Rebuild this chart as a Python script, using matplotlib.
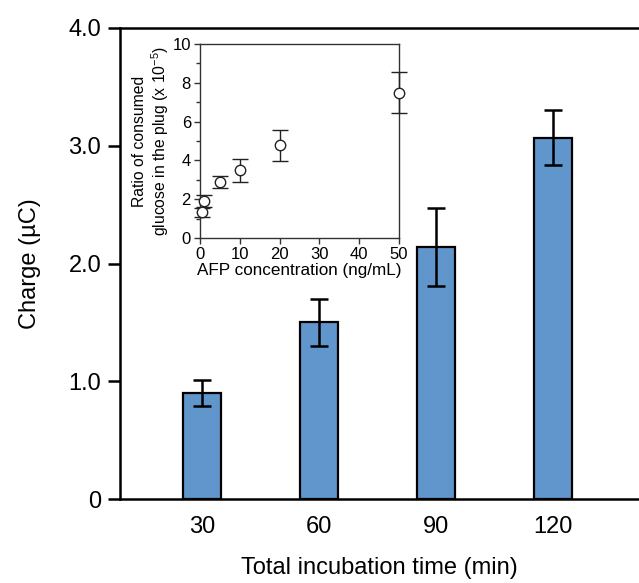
import matplotlib
matplotlib.use("Agg")
import matplotlib.pyplot as plt
import numpy as np

plt.rcParams['font.family'] = ['Liberation Sans', 'DejaVu Sans']
plt.rcParams['mathtext.default'] = 'regular'

# main bar data
times = ['30', '60', '90', '120']
charge = [0.90, 1.50, 2.14, 3.07]
charge_err = [0.11, 0.20, 0.33, 0.23]

# inset data
afp = [0.5, 1.0, 5.0, 10.0, 20.0, 50.0]
ratio = [1.32, 1.90, 2.87, 3.49, 4.79, 7.50]
ratio_err = [0.25, 0.30, 0.30, 0.58, 0.80, 1.07]

fig = plt.figure(figsize=(6.39, 5.83), dpi=100)
ax = fig.add_axes([0.1878, 0.144, 0.8122, 0.808])
x = np.arange(len(times))
ax.bar(x, charge, width=0.33, color='#6096CB', edgecolor='black', linewidth=1.6,
       yerr=charge_err, error_kw=dict(ecolor='black', elinewidth=1.8, capsize=6.5, capthick=1.8), zorder=2)
ax.set_xlim(-0.70, 3.735)
ax.set_ylim(0, 4.0)
ax.set_yticks([0, 1, 2, 3, 4])
ax.set_yticklabels(['0', '1.0', '2.0', '3.0', '4.0'])
ax.set_xticks(x)
ax.set_xticklabels(times)
for s in ['top', 'bottom', 'left']:
    ax.spines[s].set_linewidth(1.8)
ax.spines['right'].set_visible(False)
ax.tick_params(axis='y', direction='out', length=8.5, width=1.8, labelsize=17, pad=5)
ax.tick_params(axis='x', length=0, labelsize=17, pad=12)
ax.set_xlabel('Total incubation time (min)', fontsize=17, labelpad=14)
ax.set_ylabel('Charge (µC)', fontsize=17, labelpad=20)

ins = fig.add_axes([0.313, 0.5918, 0.3114, 0.3327])
ins.errorbar(afp, ratio, yerr=ratio_err, fmt='o', mfc='white', mec='#222222', ms=7.5, mew=1,
             ecolor='#222222', elinewidth=1, capsize=5.5, capthick=1, clip_on=False, zorder=3)
ins.set_xlim(0, 50)
ins.set_ylim(0, 10)
ins.set_xticks([0, 10, 20, 30, 40, 50])
ins.set_yticks([0, 2, 4, 6, 8, 10])
ins.set_yticks([1, 3, 5, 7, 9], minor=True)
for s in ins.spines.values():
    s.set_linewidth(1)
    s.set_color('#333333')
ins.tick_params(axis='both', which='major', direction='out', length=4.5, width=1, labelsize=12, pad=2, color='#333333')
ins.tick_params(axis='y', which='minor', direction='out', length=3, width=1, color='#333333')
ins.set_xlabel('AFP concentration (ng/mL)', fontsize=12.3, labelpad=1)
ins.set_ylabel('Ratio of consumed\nglucose in the plug (x 10$^{-5}$)', fontsize=11.3, labelpad=1, linespacing=1.15)

fig.savefig('out.png', dpi=100)
